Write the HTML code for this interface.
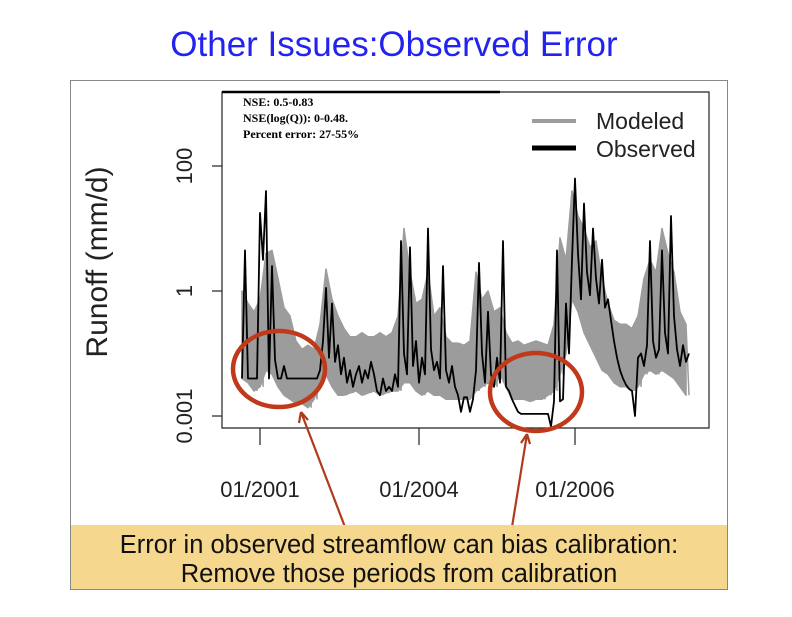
<!DOCTYPE html>
<html><head><meta charset="utf-8"><style>
body{margin:0;background:#fff;width:792px;height:612px;overflow:hidden;font-family:"Liberation Sans",sans-serif}
</style></head><body>
<svg width="792" height="612" viewBox="0 0 792 612">
<text x="394" y="56" text-anchor="middle" font-size="35" fill="#2323f0" font-family="Liberation Sans">Other Issues:Observed Error</text>
<rect x="70.5" y="80.5" width="657" height="509" fill="none" stroke="#888" stroke-width="1"/>
<g id="chart"></g>
<rect x="71" y="525" width="656" height="64" fill="#f5d78d"/>
<text x="399" y="553" text-anchor="middle" font-size="25.5" fill="#111">Error in observed streamflow can bias calibration:</text>
<text x="399" y="582" text-anchor="middle" font-size="25.5" fill="#111">Remove those periods from calibration</text>
</svg>
<script>
const yTickValues=[0.001,1,100];
const yTickLabels=["0.001","1","100"];
const xTickLabels=["01/2001","01/2004","01/2006"];
const xTickIndex=[6,59,111];
const modeledHigh=[0,-0.3,-0.5,-0.2,0.6,0.65,0.2,-0.4,-0.6,-1.2,-1.4,-1.3,-1.4,-0.8,0.35,-0.2,-0.6,-0.9,-1.1,-1.1,-1.0,-1.1,-1.1,-1.0,-1.1,-1.0,-0.6,1.0,0.3,-0.3,-0.2,0.3,-0.6,-0.4,-1.1,-1.25,-1.25,-1.3,-1.2,0.3,-0.2,0.0,-0.5,-0.4,-1.0,-1.25,-1.2,-1.3,-1.25,-1.2,-1.25,-1.3,-0.8,0.85,0.5,1.6,1.2,1.0,0.7,0.8,0.2,-0.3,-0.7,-0.8,-0.8,-0.9,-0.6,0.2,0.5,0.3,1.0,0.6,0.3,-0.5,-0.8];
const modeledLow=[-2.1,-2.2,-2.4,-2.3,-1.9,-2.0,-2.3,-2.5,-2.6,-2.7,-2.7,-2.8,-2.6,-2.2,-2.0,-2.3,-2.5,-2.5,-2.45,-2.4,-2.5,-2.45,-2.4,-2.5,-2.45,-2.4,-2.4,-2.2,-2.2,-2.4,-2.5,-2.4,-2.5,-2.5,-2.6,-2.6,-2.6,-2.6,-2.6,-2.4,-2.3,-2.2,-2.3,-2.0,-2.3,-2.6,-2.6,-2.6,-2.65,-2.6,-2.6,-2.5,-2.4,-2.0,-1.5,-0.2,-0.5,-1.0,-1.3,-1.6,-1.9,-2.0,-2.2,-2.3,-2.3,-2.4,-2.3,-2.0,-1.9,-2.0,-1.9,-2.0,-2.1,-2.3,-2.5];
const observed=[-2.1,0.65,-2.1,-2.1,-2.1,-2.1,1.25,0.5,1.6,-2.1,0.4,-1.65,-2.1,-2.1,-1.8,-2.1,-2.1,-2.1,-2.1,-2.1,-2.1,-2.1,-2.1,-2.1,-2.1,-2.1,-1.9,-1.2,0.05,-1.6,-0.3,-1.7,-1.3,-2.0,-1.6,-2.2,-1.9,-2.3,-2.0,-1.8,-2.2,-1.9,-2.1,-1.7,-2.0,-2.4,-2.5,-2.1,-2.4,-2.3,-2.4,-2.0,-2.3,0.8,-1.5,-2.0,0.7,-1.8,-1.2,-2.2,-1.6,-2.0,1.0,-1.4,-1.9,-1.7,-2.1,0.4,-1.9,-2.2,-1.8,-2.3,-2.5,-2.9,-2.55,-2.55,-2.9,-2.6,-1.9,0.45,-1.5,-2.2,-0.5,-2.0,-2.3,-1.6,-2.2,0.8,-2.3,-2.4,-2.6,-2.75,-2.9,-2.95,-2.95,-2.95,-2.95,-2.95,-2.95,-2.95,-2.95,-2.95,-2.95,-3.25,-2.65,0.65,-2.65,-2.6,-0.3,-1.5,0.5,1.8,0.6,-0.2,1.4,0.3,-0.1,1.0,0.2,-0.3,0.5,-0.4,-0.2,-0.7,-1.2,-1.6,-1.9,-2.1,-2.25,-2.35,-2.4,-3.0,-1.6,-1.5,-1.8,-1.3,0.8,-1.2,-1.6,-1.4,0.65,-1.0,-1.5,1.2,-0.6,-1.4,-1.8,-1.3,-1.7,-1.5];

const NS="http://www.w3.org/2000/svg";
const g=document.getElementById('chart');
function mk(t,a){const e=document.createElementNS(NS,t);for(const k in a)e.setAttribute(k,a[k]);g.appendChild(e);return e;}
function yScale(l){return l>=0?291-l*62.5:291+(-l)*41.67;}
function xObs(i){return 242+i*3;}
function xEnv(j){return 242+j*6;}
const L=222,R=709,T=92,B=428;

let pts=[];
for(let j=0;j<modeledHigh.length;j++)pts.push(xEnv(j)+','+yScale(modeledHigh[j]).toFixed(1));
for(let j=modeledLow.length-1;j>=0;j--)pts.push(xEnv(j)+','+yScale(modeledLow[j]).toFixed(1));
let band=mk('polygon',{points:pts.join(' '),fill:'#9c9c9c',stroke:'#9c9c9c','stroke-width':1.5,'stroke-linejoin':'round'});


let zz=[];
for(let j=0;j<modeledHigh.length;j++){zz.push(xEnv(j)+','+yScale(modeledHigh[j]).toFixed(1));zz.push((xEnv(j)+3)+','+yScale(modeledLow[j]).toFixed(1));}
let mline=mk('polyline',{points:zz.join(' '),fill:'none',stroke:'#9c9c9c','stroke-width':1.5});



let op=observed.map((v,i)=>xObs(i)+','+yScale(v).toFixed(1)).join(' ');
let oline=mk('polyline',{points:op,fill:'none',stroke:'#000','stroke-width':1.8,'stroke-linejoin':'round'});



let fr=mk('path',{d:`M${L},${T}H${R}V${B}H${L}Z`,fill:'none',stroke:'#222','stroke-width':1.2});


let tb=mk('line',{x1:L,y1:T,x2:500,y2:T,stroke:'#000','stroke-width':2.5});



yTickValues.forEach((v,k)=>{const y=yScale(Math.log10(v));
 let t=mk('line',{x1:L-10,y1:y,x2:L,y2:y,stroke:'#222','stroke-width':1.2});
 
 
 let tx=mk('text',{x:0,y:0,transform:`translate(192,${y}) rotate(-90)`,'text-anchor':'middle','font-size':22,fill:'#222'});
 tx.textContent=yTickLabels[k];
 
 
});
xTickIndex.forEach((ix,k)=>{const x=xObs(ix);
 let t=mk('line',{x1:x,y1:B,x2:x,y2:B+17,stroke:'#222','stroke-width':1.2});
 
 
 let tx=mk('text',{x:x,y:497,'text-anchor':'middle','font-size':22,fill:'#222'});
 tx.textContent=xTickLabels[k];
 
 
});
let yl=mk('text',{x:0,y:0,transform:'translate(107,262) rotate(-90)','text-anchor':'middle','font-size':30,fill:'#222'});
yl.textContent='Runoff (mm/d)';



["NSE: 0.5-0.83","NSE(log(Q)): 0-0.48.","Percent error: 27-55%"].forEach((s,k)=>{
 let tx=mk('text',{x:243,y:106+k*16,'font-size':12,'font-weight':'bold','font-family':'Liberation Serif, serif',fill:'#000'});
 tx.textContent=s;
 
 
});
let l1=mk('line',{x1:532,y1:121,x2:576,y2:121,stroke:'#9c9c9c','stroke-width':4});


let l2=mk('line',{x1:532,y1:148,x2:576,y2:148,stroke:'#000','stroke-width':5});


let lt1=mk('text',{x:596,y:129,'font-size':23,fill:'#222'});lt1.textContent='Modeled';


let lt2=mk('text',{x:596,y:157,'font-size':23,fill:'#222'});lt2.textContent='Observed';



let c1=mk('ellipse',{cx:279,cy:369,rx:46,ry:38,fill:'none',stroke:'#c0391b','stroke-width':4.5});


let c2=mk('ellipse',{cx:536,cy:392,rx:46,ry:39,fill:'none',stroke:'#c0391b','stroke-width':4.5});


let a1=mk('path',{d:'M345,527 L301,412 M301,412 l-2,11 M301,412 l7,8',fill:'none',stroke:'#b03a1c','stroke-width':2.2});


let a2=mk('path',{d:'M512,527 L527,434 M527,434 l-6,9 M527,434 l3,10',fill:'none',stroke:'#b03a1c','stroke-width':2.2});


</script>
</body></html>
